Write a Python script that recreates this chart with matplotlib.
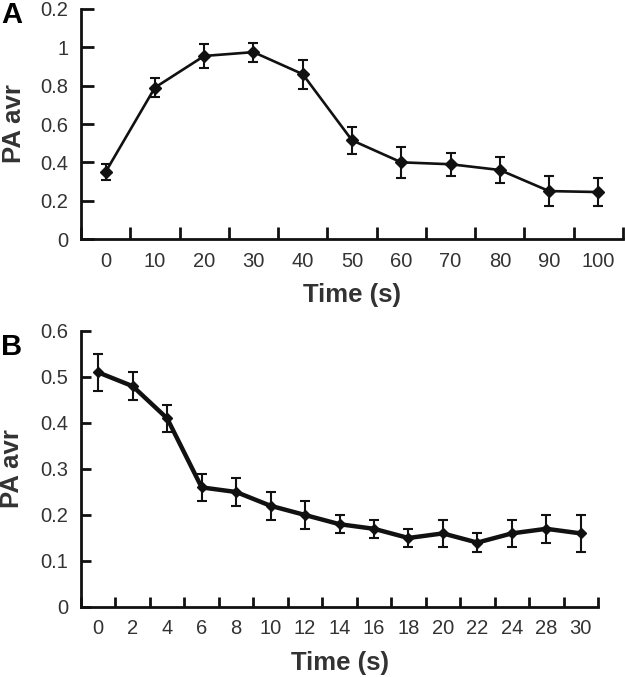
import matplotlib
matplotlib.use("Agg")
import matplotlib.pyplot as plt
import numpy as np

plt.rcParams['font.family'] = ['Liberation Sans', 'DejaVu Sans']

# Panel A data
a_labels = ['0', '10', '20', '30', '40', '50', '60', '70', '80', '90', '100']
a_vals = [0.35, 0.79, 0.955, 0.975, 0.86, 0.515, 0.40, 0.39, 0.36, 0.25, 0.245]
a_err = [0.04, 0.05, 0.065, 0.05, 0.075, 0.07, 0.08, 0.06, 0.07, 0.08, 0.075]
a_yticks = [0, 0.2, 0.4, 0.6, 0.8, 1.0, 1.2]
a_yticklabels = ['0', '0.2', '0.4', '0.6', '0.8', '1', '0.2']

# Panel B data
b_labels = ['0', '2', '4', '6', '8', '10', '12', '14', '16', '18', '20', '22', '24', '28', '30']
b_vals = [0.51, 0.48, 0.41, 0.26, 0.25, 0.22, 0.20, 0.18, 0.17, 0.15, 0.16, 0.14, 0.16, 0.17, 0.16]
b_err = [0.04, 0.03, 0.03, 0.03, 0.03, 0.03, 0.03, 0.02, 0.02, 0.02, 0.03, 0.02, 0.03, 0.03, 0.04]
b_yticks = [0, 0.1, 0.2, 0.3, 0.4, 0.5, 0.6]
b_yticklabels = ['0', '0.1', '0.2', '0.3', '0.4', '0.5', '0.6']

W, H = 625, 677
fig = plt.figure(figsize=(W / 100, H / 100), dpi=100)

txt = '#333333'
dark = '#111111'


def setup(ax, labels, vals, err, yticks, yticklabels, ylim, lw, ms, tick_len, axw, ylab_right):
    n = len(labels)
    x = np.arange(n)
    ax.errorbar(x, vals, yerr=err, color=dark, lw=lw, marker='D', ms=ms,
                capsize=3.5, elinewidth=1.5, capthick=1.5, zorder=3)
    ax.set_xlim(-0.5, n - 0.5)
    ax.set_ylim(*ylim)
    ax.set_xticks(np.arange(n + 1) - 0.5)
    ax.set_xticklabels([])
    ax.set_xticks(x, minor=True)
    ax.set_xticklabels(labels, minor=True, fontsize=14.5, color=txt)
    ax.tick_params(axis='x', which='major', direction='in', length=tick_len, width=2, color=dark)
    ax.tick_params(axis='x', which='minor', length=0, pad=9)
    ax.set_yticks(yticks)
    ax.set_yticklabels(yticklabels, fontsize=14.5, color=txt)
    ax.tick_params(axis='y', direction='in', length=tick_len, width=2, color=dark, pad=9)
    for s in ['top', 'right']:
        ax.spines[s].set_visible(False)
    for s in ['left', 'bottom']:
        ax.spines[s].set_linewidth(2)
        ax.spines[s].set_color(dark)
    ax.set_xlabel('Time (s)', fontsize=18.5, fontweight='bold', color=txt, labelpad=9)
    ax.set_ylabel('PA avr', fontsize=18.5, fontweight='bold', color=txt)
    ax.yaxis.set_label_coords((ylab_right - 81) / axw, 0.5)


axA = fig.add_axes([81 / W, 1 - 239 / H, (623 - 81) / W, (239 - 9) / H])
setup(axA, a_labels, a_vals, a_err, a_yticks, a_yticklabels, (0, 1.2), 1.9, 6.5, 9, 623 - 81, 26)

axB = fig.add_axes([81 / W, 1 - 607 / H, (598 - 81) / W, (607 - 331) / H])
setup(axB, b_labels, b_vals, b_err, b_yticks, b_yticklabels, (0, 0.6), 3.2, 5, 7, 598 - 81, 24)

fig.text(1 / W, 1 - 15 / H, 'A', fontsize=21, fontweight='bold', color='black', va='center', ha='left')
fig.text(1 / W, 1 - 347 / H, 'B', fontsize=21, fontweight='bold', color='black', va='center', ha='left')

fig.savefig('out.png', dpi=100)
